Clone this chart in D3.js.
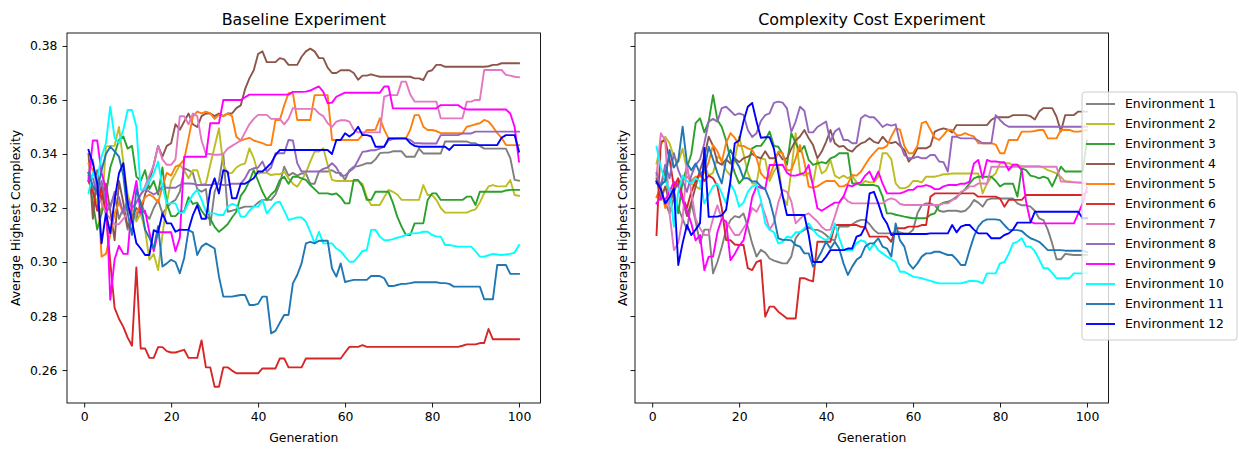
<!DOCTYPE html>
<html>
<head>
<meta charset="utf-8">
<script src="https://cdn.jsdelivr.net/npm/d3@7"></script>
<style>
body { margin: 0; background: #fff; }
text { font-family: "DejaVu Sans", sans-serif; fill: #000; }
</style>
</head>
<body>
<svg id="svg"></svg>
<script>

const width = 1239;
const height = 451;

// x values (generation index) and axis settings
const generations = d3.range(1, 101);
const xTicks = [0, 20, 40, 60, 80, 100];
const yTicks = [0.26, 0.28, 0.30, 0.32, 0.34, 0.36, 0.38];
const xLimits = [-3.95, 104.95];
const yLimits = [0.2478, 0.3848];

const envNames = ["Environment 1", "Environment 2", "Environment 3", "Environment 4",
	"Environment 5", "Environment 6", "Environment 7", "Environment 8",
	"Environment 9", "Environment 10", "Environment 11", "Environment 12"];
const envColors = ["#7f7f7f", "#bcbd22", "#2ca02c", "#8c564b", "#ff7f0e", "#d62728",
	"#e377c2", "#9467bd", "#ff00ff", "#00ffff", "#1f77b4", "#0000ff"];

// ---- Baseline experiment ----
const base1 = [
	0.331, 0.326, 0.330, 0.322, 0.318, 0.321, 0.325, 0.316, 0.320, 0.312,
	0.318, 0.316, 0.322, 0.318, 0.316, 0.320, 0.323, 0.318, 0.320, 0.322,
	0.323, 0.326, 0.3347, 0.334, 0.333, 0.327, 0.326, 0.327, 0.3137, 0.326,
	0.330, 0.340, 0.3186, 0.319, 0.3195, 0.320, 0.3205, 0.3205, 0.3205, 0.322,
	0.323, 0.323, 0.323, 0.325, 0.329, 0.3353, 0.332, 0.333, 0.332, 0.3328,
	0.3328, 0.329, 0.329, 0.3335, 0.3335, 0.3335, 0.334, 0.333, 0.333, 0.3304,
	0.334, 0.3353, 0.3355, 0.336, 0.3366, 0.3366, 0.338, 0.3403, 0.3405, 0.3405,
	0.341, 0.341, 0.341, 0.339, 0.339, 0.339, 0.342, 0.3402, 0.3402, 0.3402,
	0.3402, 0.3402, 0.3446, 0.3446, 0.3446, 0.3446, 0.3446, 0.3446, 0.344, 0.344,
	0.343, 0.342, 0.342, 0.342, 0.342, 0.342, 0.342, 0.3385, 0.3304, 0.3301];
const base2 = [
	0.330, 0.326, 0.322, 0.318, 0.3427, 0.343, 0.343, 0.350, 0.337, 0.325,
	0.320, 0.315, 0.318, 0.312, 0.3008, 0.303, 0.297, 0.310, 0.322, 0.330,
	0.3328, 0.336, 0.334, 0.331, 0.334, 0.334, 0.3286, 0.329, 0.336, 0.3427,
	0.3495, 0.336, 0.3328, 0.333, 0.335, 0.336, 0.3365, 0.3421, 0.3385, 0.3328,
	0.333, 0.333, 0.3322, 0.3325, 0.3325, 0.3335, 0.331, 0.329, 0.3279, 0.3304,
	0.333, 0.3372, 0.3409, 0.3409, 0.3421, 0.336, 0.3304, 0.330, 0.330, 0.330,
	0.330, 0.330, 0.330, 0.329, 0.324, 0.3211, 0.3211, 0.3211, 0.324, 0.3267,
	0.326, 0.325, 0.323, 0.323, 0.323, 0.323, 0.323, 0.3285, 0.3248, 0.3248,
	0.323, 0.320, 0.3183, 0.3183, 0.3183, 0.3183, 0.3183, 0.3183, 0.319, 0.3195,
	0.322, 0.3255, 0.328, 0.3285, 0.328, 0.328, 0.328, 0.3304, 0.3248, 0.3245];
const base3 = [
	0.332, 0.322, 0.312, 0.318, 0.325, 0.335, 0.340, 0.3452, 0.3465, 0.342,
	0.343, 0.3316, 0.330, 0.334, 0.327, 0.330, 0.325, 0.335, 0.3217, 0.317,
	0.317, 0.3187, 0.3187, 0.324, 0.3215, 0.322, 0.319, 0.3168, 0.316, 0.313,
	0.3112, 0.3125, 0.314, 0.3165, 0.3186, 0.3245, 0.3267, 0.330, 0.334, 0.330,
	0.326, 0.323, 0.325, 0.3265, 0.3304, 0.3316, 0.329, 0.3316, 0.3316, 0.331,
	0.3304, 0.3285, 0.327, 0.3254, 0.3254, 0.3254, 0.325, 0.3254, 0.324, 0.3217,
	0.3217, 0.3304, 0.3304, 0.328, 0.323, 0.323, 0.326, 0.326, 0.326, 0.326,
	0.322, 0.3168, 0.3131, 0.310, 0.310, 0.3143, 0.3143, 0.3143, 0.323, 0.3254,
	0.3254, 0.323, 0.323, 0.323, 0.323, 0.323, 0.323, 0.3242, 0.3242, 0.3211,
	0.326, 0.326, 0.326, 0.326, 0.326, 0.326, 0.3265, 0.3267, 0.3267, 0.3267];
const base4 = [
	0.340, 0.316, 0.334, 0.323, 0.329, 0.319, 0.308, 0.330, 0.322, 0.313,
	0.316, 0.320, 0.318, 0.325, 0.330, 0.336, 0.343, 0.339, 0.343, 0.344,
	0.351, 0.349, 0.352, 0.355, 0.351, 0.350, 0.354, 0.355, 0.355, 0.354,
	0.355, 0.354, 0.355, 0.355, 0.357, 0.358, 0.364, 0.368, 0.371, 0.377,
	0.378, 0.374, 0.374, 0.374, 0.3755, 0.375, 0.373, 0.373, 0.373, 0.376,
	0.378, 0.379, 0.378, 0.3755, 0.3755, 0.372, 0.370, 0.370, 0.371, 0.371,
	0.371, 0.370, 0.3675, 0.369, 0.369, 0.3695, 0.369, 0.3686, 0.3686, 0.3686,
	0.3686, 0.3686, 0.3686, 0.3686, 0.3686, 0.368, 0.368, 0.3674, 0.3705, 0.371,
	0.373, 0.373, 0.3723, 0.3723, 0.3723, 0.3723, 0.3723, 0.3723, 0.3723, 0.3723,
	0.3723, 0.3723, 0.3725, 0.373, 0.373, 0.3736, 0.3736, 0.3736, 0.3736, 0.3736];
const base5 = [
	0.3365, 0.334, 0.330, 0.302, 0.303, 0.310, 0.318, 0.322, 0.318, 0.320,
	0.316, 0.318, 0.321, 0.324, 0.325, 0.324, 0.322, 0.328, 0.333, 0.332,
	0.3353, 0.336, 0.338, 0.3458, 0.3538, 0.3557, 0.355, 0.3557, 0.355, 0.353,
	0.3545, 0.354, 0.355, 0.354, 0.3464, 0.345, 0.3455, 0.346, 0.345, 0.3445,
	0.344, 0.3433, 0.3433, 0.3526, 0.3526, 0.358, 0.3625, 0.3625, 0.3526, 0.3526,
	0.3526, 0.3526, 0.3618, 0.3618, 0.3618, 0.3618, 0.3452, 0.3452, 0.3452, 0.3452,
	0.3452, 0.3452, 0.3452, 0.347, 0.3489, 0.3489, 0.349, 0.3532, 0.349, 0.3458,
	0.3458, 0.3458, 0.3458, 0.3458, 0.349, 0.3544, 0.3544, 0.3501, 0.3489, 0.3489,
	0.3485, 0.3477, 0.3477, 0.3477, 0.3477, 0.3477, 0.3477, 0.3501, 0.3505, 0.351,
	0.3514, 0.3526, 0.352, 0.3501, 0.3477, 0.346, 0.3433, 0.3433, 0.3433, 0.3433];
const base6 = [
	0.330, 0.326, 0.319, 0.328, 0.318, 0.300, 0.283, 0.279, 0.276, 0.272,
	0.269, 0.298, 0.268, 0.268, 0.2645, 0.2645, 0.2685, 0.2685, 0.267, 0.2665,
	0.2665, 0.267, 0.2675, 0.2645, 0.2645, 0.2645, 0.271, 0.261, 0.261, 0.2538,
	0.2538, 0.261, 0.261, 0.2598, 0.2588, 0.2588, 0.2588, 0.2588, 0.2588, 0.2588,
	0.2606, 0.2606, 0.2606, 0.2606, 0.2643, 0.2643, 0.261, 0.261, 0.261, 0.261,
	0.2643, 0.2643, 0.2643, 0.2643, 0.2643, 0.2643, 0.2643, 0.2643, 0.2643, 0.2665,
	0.2686, 0.2686, 0.2686, 0.2692, 0.2686, 0.2686, 0.2686, 0.2686, 0.2686, 0.2686,
	0.2686, 0.2686, 0.2686, 0.2686, 0.2686, 0.2686, 0.2686, 0.2686, 0.2686, 0.2686,
	0.2686, 0.2686, 0.2686, 0.2686, 0.2686, 0.2686, 0.269, 0.2695, 0.2695, 0.2695,
	0.270, 0.270, 0.2752, 0.2714, 0.2714, 0.2714, 0.2714, 0.2714, 0.2714, 0.2714];
const base7 = [
	0.333, 0.338, 0.325, 0.322, 0.318, 0.316, 0.314, 0.314, 0.316, 0.318,
	0.320, 0.322, 0.325, 0.328, 0.332, 0.336, 0.343, 0.338, 0.336, 0.336,
	0.338, 0.354, 0.354, 0.351, 0.355, 0.354, 0.345, 0.340, 0.340, 0.3397,
	0.3397, 0.340, 0.342, 0.343, 0.344, 0.345, 0.348, 0.351, 0.353, 0.3545,
	0.3545, 0.3545, 0.353, 0.353, 0.353, 0.351, 0.353, 0.357, 0.3567, 0.3567,
	0.3567, 0.3567, 0.3567, 0.355, 0.354, 0.3514, 0.350, 0.352, 0.3525, 0.3525,
	0.352, 0.349, 0.348, 0.348, 0.348, 0.348, 0.348, 0.348, 0.3612, 0.3618,
	0.3618, 0.3618, 0.3668, 0.3668, 0.362, 0.3594, 0.3594, 0.3594, 0.3594, 0.3594,
	0.3594, 0.3532, 0.3532, 0.3532, 0.3532, 0.3532, 0.3532, 0.3594, 0.3594, 0.360,
	0.360, 0.3711, 0.3711, 0.3711, 0.3711, 0.3711, 0.3693, 0.369, 0.3686, 0.3684];
const base8 = [
	0.333, 0.331, 0.325, 0.330, 0.322, 0.320, 0.326, 0.324, 0.318, 0.323,
	0.320, 0.322, 0.325, 0.327, 0.326, 0.325, 0.326, 0.328, 0.3275, 0.3275,
	0.3275, 0.3285, 0.3291, 0.3291, 0.329, 0.3285, 0.3285, 0.3285, 0.3285, 0.329,
	0.329, 0.3285, 0.3285, 0.329, 0.329, 0.329, 0.331, 0.334, 0.3347, 0.335,
	0.3372, 0.3335, 0.335, 0.3403, 0.3403, 0.3403, 0.3452, 0.345, 0.3366, 0.3335,
	0.3335, 0.3335, 0.3335, 0.3335, 0.3345, 0.335, 0.3366, 0.335, 0.332, 0.332,
	0.3335, 0.3347, 0.3377, 0.3408, 0.341, 0.3414, 0.3414, 0.342, 0.3427, 0.3451,
	0.3455, 0.3457, 0.3457, 0.3457, 0.3452, 0.344, 0.344, 0.3439, 0.3439, 0.3439,
	0.3439, 0.347, 0.347, 0.347, 0.347, 0.347, 0.3476, 0.3476, 0.3476, 0.3483,
	0.3483, 0.3483, 0.3483, 0.3483, 0.3483, 0.3483, 0.3483, 0.3483, 0.3483, 0.3483];
const base9 = [
	0.330, 0.345, 0.345, 0.333, 0.327, 0.286, 0.301, 0.306, 0.303, 0.303,
	0.322, 0.330, 0.318, 0.319, 0.311, 0.304, 0.311, 0.311, 0.311, 0.311,
	0.304, 0.309, 0.339, 0.339, 0.339, 0.339, 0.339, 0.339, 0.3514, 0.3514,
	0.3514, 0.360, 0.360, 0.360, 0.360, 0.360, 0.361, 0.362, 0.362, 0.362,
	0.362, 0.362, 0.362, 0.362, 0.362, 0.362, 0.362, 0.363, 0.363, 0.363,
	0.3631, 0.3635, 0.3643, 0.365, 0.363, 0.3588, 0.359, 0.3612, 0.362, 0.3627,
	0.3627, 0.3627, 0.3627, 0.3627, 0.3627, 0.3627, 0.3627, 0.3627, 0.365, 0.365,
	0.3569, 0.3569, 0.3569, 0.3569, 0.3569, 0.3569, 0.3569, 0.3569, 0.3569, 0.3569,
	0.3569, 0.3581, 0.3581, 0.3581, 0.3581, 0.3581, 0.357, 0.3565, 0.3565, 0.3565,
	0.3565, 0.3565, 0.3565, 0.3565, 0.3565, 0.3565, 0.3565, 0.355, 0.350, 0.3372];
const base10 = [
	0.3255, 0.333, 0.331, 0.339, 0.344, 0.3575, 0.346, 0.344, 0.349, 0.3563,
	0.3563, 0.3501, 0.3267, 0.327, 0.330, 0.3328, 0.3372, 0.328, 0.3217, 0.3217,
	0.3217, 0.318, 0.3186, 0.322, 0.325, 0.3267, 0.323, 0.3186, 0.318, 0.318,
	0.3174, 0.3174, 0.3205, 0.3215, 0.321, 0.3168, 0.3168, 0.319, 0.3205, 0.3205,
	0.323, 0.318, 0.320, 0.322, 0.3223, 0.319, 0.3156, 0.316, 0.3165, 0.3165,
	0.315, 0.3112, 0.3069, 0.3112, 0.3069, 0.3069, 0.3069, 0.305, 0.304, 0.302,
	0.3001, 0.3001, 0.302, 0.304, 0.3045, 0.3119, 0.3119, 0.3094, 0.3081, 0.3081,
	0.3085, 0.309, 0.3094, 0.310, 0.3106, 0.3106, 0.3108, 0.3112, 0.3112, 0.310,
	0.3095, 0.3094, 0.3063, 0.3063, 0.306, 0.3057, 0.3057, 0.3057, 0.3057, 0.304,
	0.302, 0.302, 0.3025, 0.303, 0.3028, 0.3026, 0.3028, 0.303, 0.3035, 0.3063];
const base11 = [
	0.333, 0.328, 0.326, 0.334, 0.340, 0.3427, 0.341, 0.339, 0.332, 0.318,
	0.310, 0.327, 0.322, 0.312, 0.309, 0.305, 0.3133, 0.2983, 0.2995, 0.3008,
	0.300, 0.2958, 0.3015, 0.3118, 0.311, 0.3026, 0.3057, 0.3069, 0.306, 0.305,
	0.2946, 0.2872, 0.2872, 0.2872, 0.2875, 0.2878, 0.2878, 0.2841, 0.2841, 0.2845,
	0.2872, 0.2872, 0.2736, 0.2745, 0.2775, 0.2804, 0.2804, 0.2921, 0.2952, 0.2995,
	0.3069, 0.3075, 0.3069, 0.3079, 0.3079, 0.3079, 0.2976, 0.2946, 0.2995, 0.2926,
	0.293, 0.2934, 0.2934, 0.2934, 0.2934, 0.2948, 0.2948, 0.2948, 0.294, 0.2911,
	0.2911, 0.2915, 0.2919, 0.2919, 0.2922, 0.2925, 0.2925, 0.2925, 0.2925, 0.2925,
	0.2925, 0.2922, 0.2922, 0.2919, 0.2909, 0.2909, 0.2909, 0.2909, 0.2909, 0.2909,
	0.2909, 0.2862, 0.2862, 0.2862, 0.2989, 0.2989, 0.2989, 0.2956, 0.2956, 0.2956];
const base12 = [
	0.3415, 0.3366, 0.3291, 0.3069, 0.318, 0.3106, 0.323, 0.3328, 0.3366, 0.322,
	0.315, 0.307, 0.305, 0.3026, 0.3026, 0.3118, 0.311, 0.318, 0.3143, 0.3143,
	0.3112, 0.312, 0.3119, 0.3119, 0.3174, 0.3211, 0.316, 0.316, 0.3267, 0.331,
	0.3254, 0.334, 0.3335, 0.3236, 0.3236, 0.329, 0.329, 0.330, 0.331, 0.3335,
	0.3335, 0.335, 0.3366, 0.3396, 0.3415, 0.3415, 0.3415, 0.3415, 0.3415, 0.3415,
	0.3415, 0.3415, 0.3415, 0.3415, 0.3415, 0.3415, 0.340, 0.3452, 0.3452, 0.3477,
	0.3465, 0.3477, 0.3501, 0.347, 0.347, 0.3465, 0.3427, 0.3427, 0.3427, 0.3458,
	0.3458, 0.3458, 0.3458, 0.3458, 0.344, 0.343, 0.3427, 0.3427, 0.3427, 0.3427,
	0.3427, 0.3427, 0.3427, 0.3415, 0.3433, 0.3433, 0.3433, 0.3433, 0.3433, 0.3433,
	0.3433, 0.3433, 0.3433, 0.3433, 0.3433, 0.346, 0.347, 0.347, 0.347, 0.3409];

// ---- Complexity cost experiment ----
const cost1 = [
	0.330, 0.326, 0.322, 0.318, 0.324, 0.320, 0.316, 0.312, 0.322, 0.315,
	0.307, 0.312, 0.312, 0.2958, 0.300, 0.3055, 0.312, 0.3155, 0.317, 0.3165,
	0.318, 0.313, 0.3069, 0.302, 0.3045, 0.3035, 0.3013, 0.3005, 0.300, 0.2995,
	0.2995, 0.302, 0.3088, 0.311, 0.3119, 0.313, 0.3119, 0.3119, 0.3112, 0.310,
	0.3085, 0.308, 0.3131, 0.3131, 0.3131, 0.314, 0.315, 0.3156, 0.3156, 0.314,
	0.3119, 0.3106, 0.3106, 0.3106, 0.3106, 0.311, 0.311, 0.3106, 0.3106, 0.3119,
	0.318, 0.321, 0.3217, 0.3217, 0.321, 0.319, 0.3186, 0.319, 0.319, 0.319,
	0.3186, 0.319, 0.3205, 0.323, 0.322, 0.3205, 0.323, 0.3235, 0.3235, 0.3235,
	0.3235, 0.3235, 0.3235, 0.3217, 0.321, 0.321, 0.3205, 0.319, 0.3162, 0.3155,
	0.3119, 0.3069, 0.301, 0.301, 0.303, 0.3028, 0.3026, 0.3026, 0.3026, 0.3026];
const cost2 = [
	0.3365, 0.3433, 0.3464, 0.344, 0.339, 0.337, 0.342, 0.334, 0.329, 0.328,
	0.327, 0.336, 0.332, 0.333, 0.339, 0.338, 0.334, 0.332, 0.338, 0.3464,
	0.340, 0.333, 0.3291, 0.329, 0.3384, 0.338, 0.330, 0.3335, 0.336, 0.3242,
	0.3211, 0.334, 0.3477, 0.333, 0.332, 0.333, 0.329, 0.3378, 0.3328, 0.334,
	0.3378, 0.332, 0.331, 0.332, 0.331, 0.332, 0.3295, 0.3285, 0.330, 0.3295,
	0.3295, 0.3316, 0.3403, 0.3403, 0.338, 0.3291, 0.3273, 0.3273, 0.328, 0.330,
	0.330, 0.3295, 0.3316, 0.3316, 0.3316, 0.332, 0.3325, 0.3325, 0.3328, 0.3328,
	0.3328, 0.3328, 0.3328, 0.3328, 0.3328, 0.3254, 0.329, 0.3315, 0.3328, 0.3366,
	0.3366, 0.3366, 0.336, 0.336, 0.3355, 0.3355, 0.3355, 0.3355, 0.3355, 0.335,
	0.334, 0.3335, 0.3328, 0.3315, 0.3298, 0.3298, 0.3296, 0.3295, 0.3294, 0.3294];
const cost3 = [
	0.330, 0.328, 0.334, 0.322, 0.326, 0.318, 0.330, 0.335, 0.340, 0.3514,
	0.3532, 0.348, 0.352, 0.3618, 0.3526, 0.350, 0.345, 0.338, 0.333, 0.3291,
	0.331, 0.336, 0.3421, 0.343, 0.343, 0.3452, 0.3483, 0.343, 0.3427, 0.340,
	0.336, 0.3477, 0.344, 0.3409, 0.343, 0.3378, 0.336, 0.3365, 0.337, 0.3365,
	0.3384, 0.339, 0.3403, 0.3403, 0.3403, 0.3291, 0.3291, 0.3285, 0.3285, 0.3285,
	0.3285, 0.328, 0.3242, 0.318, 0.318, 0.3175, 0.3172, 0.3168, 0.3165, 0.3162,
	0.3162, 0.3162, 0.3162, 0.3175, 0.318, 0.3211, 0.322, 0.3223, 0.323, 0.3242,
	0.3255, 0.327, 0.3291, 0.331, 0.3316, 0.3316, 0.3316, 0.3316, 0.330, 0.328,
	0.329, 0.329, 0.329, 0.3242, 0.3347, 0.334, 0.332, 0.3316, 0.331, 0.3316,
	0.331, 0.328, 0.3316, 0.3353, 0.3335, 0.3335, 0.3335, 0.3335, 0.3335, 0.345];
const cost4 = [
	0.331, 0.323, 0.328, 0.322, 0.326, 0.330, 0.323, 0.317, 0.322, 0.328,
	0.334, 0.339, 0.3464, 0.343, 0.337, 0.336, 0.338, 0.3365, 0.3384, 0.337,
	0.3384, 0.339, 0.340, 0.339, 0.3384, 0.341, 0.3384, 0.3384, 0.3403, 0.338,
	0.3384, 0.342, 0.345, 0.3465, 0.3489, 0.3458, 0.3433, 0.3384, 0.3409, 0.3445,
	0.3489, 0.344, 0.3427, 0.343, 0.3415, 0.3409, 0.3427, 0.3439, 0.3445, 0.3458,
	0.3445, 0.344, 0.3464, 0.3445, 0.344, 0.3445, 0.343, 0.3415, 0.3372, 0.339,
	0.3421, 0.3421, 0.3421, 0.343, 0.3483, 0.349, 0.3495, 0.349, 0.348, 0.3507,
	0.3507, 0.3507, 0.3507, 0.3507, 0.3507, 0.3507, 0.3507, 0.3526, 0.3536, 0.3536,
	0.3536, 0.3536, 0.3544, 0.3544, 0.3544, 0.3544, 0.354, 0.3528, 0.3557, 0.357,
	0.357, 0.357, 0.3538, 0.3483, 0.3544, 0.3544, 0.3544, 0.3557, 0.3557, 0.3557];
const cost5 = [
	0.324, 0.328, 0.320, 0.324, 0.328, 0.330, 0.330, 0.3316, 0.330, 0.3316,
	0.3316, 0.333, 0.337, 0.3433, 0.341, 0.337, 0.344, 0.3477, 0.346, 0.343,
	0.343, 0.3421, 0.3415, 0.3385, 0.3328, 0.331, 0.3316, 0.336, 0.3409, 0.3403,
	0.334, 0.334, 0.3384, 0.3433, 0.337, 0.3279, 0.3275, 0.328, 0.3291, 0.330,
	0.330, 0.330, 0.328, 0.328, 0.329, 0.3322, 0.332, 0.3334, 0.336, 0.3385,
	0.3403, 0.3421, 0.3421, 0.343, 0.3465, 0.3495, 0.349, 0.343, 0.3403, 0.3403,
	0.343, 0.3514, 0.352, 0.349, 0.346, 0.3452, 0.347, 0.349, 0.3489, 0.347,
	0.347, 0.3477, 0.347, 0.3465, 0.344, 0.344, 0.344, 0.344, 0.3435, 0.3403,
	0.3403, 0.3452, 0.3452, 0.3452, 0.3483, 0.3483, 0.3483, 0.3485, 0.3489, 0.3489,
	0.3458, 0.3458, 0.3458, 0.3489, 0.349, 0.3489, 0.3483, 0.3483, 0.3485, 0.3489];
const cost6 = [
	0.310, 0.3446, 0.345, 0.338, 0.3279, 0.331, 0.324, 0.320, 0.326, 0.330,
	0.333, 0.330, 0.332, 0.331, 0.328, 0.320, 0.3081, 0.3081, 0.3065, 0.3063,
	0.3063, 0.2977, 0.297, 0.300, 0.3007, 0.2798, 0.2835, 0.2835, 0.2816, 0.2804,
	0.2791, 0.2791, 0.2791, 0.294, 0.294, 0.2933, 0.2928, 0.3075, 0.3075, 0.3075,
	0.3075, 0.3137, 0.3137, 0.3137, 0.3137, 0.3137, 0.3137, 0.313, 0.313, 0.3094,
	0.3094, 0.3094, 0.3094, 0.3094, 0.3075, 0.3125, 0.3125, 0.3125, 0.3131, 0.3131,
	0.3131, 0.3137, 0.3137, 0.3242, 0.3254, 0.3254, 0.3254, 0.3254, 0.3254, 0.3254,
	0.3254, 0.3254, 0.3254, 0.3254, 0.3242, 0.3242, 0.3242, 0.3242, 0.3242, 0.3235,
	0.3205, 0.323, 0.323, 0.323, 0.323, 0.3248, 0.3248, 0.3248, 0.3248, 0.3248,
	0.3248, 0.3248, 0.3248, 0.3248, 0.3248, 0.3248, 0.3248, 0.3248, 0.3248, 0.326];
const cost7 = [
	0.332, 0.3477, 0.345, 0.318, 0.3044, 0.307, 0.316, 0.3365, 0.326, 0.316,
	0.3125, 0.310, 0.310, 0.316, 0.321, 0.316, 0.315, 0.3125, 0.310, 0.310,
	0.3125, 0.315, 0.320, 0.3186, 0.3217, 0.3175, 0.312, 0.3145, 0.322, 0.3267,
	0.326, 0.3225, 0.3143, 0.316, 0.3174, 0.318, 0.3165, 0.315, 0.313, 0.3118,
	0.312, 0.3168, 0.322, 0.3242, 0.3225, 0.3217, 0.3217, 0.3217, 0.3217, 0.3217,
	0.3217, 0.3217, 0.3217, 0.323, 0.3236, 0.323, 0.3215, 0.3211, 0.3211, 0.3211,
	0.3211, 0.3211, 0.3211, 0.3211, 0.3211, 0.3211, 0.3217, 0.3217, 0.323, 0.3236,
	0.326, 0.3267, 0.328, 0.328, 0.3291, 0.3291, 0.329, 0.3353, 0.3353, 0.3353,
	0.3353, 0.3353, 0.3353, 0.3353, 0.3353, 0.3353, 0.3353, 0.3353, 0.3353, 0.3353,
	0.3353, 0.3353, 0.3353, 0.3298, 0.3298, 0.3296, 0.3295, 0.3294, 0.3293, 0.3293];
const cost8 = [
	0.333, 0.328, 0.336, 0.331, 0.3403, 0.334, 0.330, 0.326, 0.332, 0.336,
	0.338, 0.344, 0.352, 0.353, 0.352, 0.357, 0.3575, 0.356, 0.3544, 0.355,
	0.3545, 0.3489, 0.3463, 0.3477, 0.3522, 0.3544, 0.355, 0.3589, 0.3594, 0.359,
	0.3569, 0.3482, 0.352, 0.3575, 0.356, 0.348, 0.348, 0.350, 0.351, 0.352,
	0.3445, 0.3483, 0.3495, 0.3452, 0.3452, 0.344, 0.344, 0.3532, 0.3544, 0.3536,
	0.3536, 0.352, 0.350, 0.351, 0.3505, 0.351, 0.344, 0.3396, 0.3384, 0.3384,
	0.339, 0.3384, 0.3384, 0.3396, 0.3396, 0.3372, 0.337, 0.3335, 0.3464, 0.3464,
	0.3458, 0.3458, 0.3458, 0.3458, 0.345, 0.344, 0.344, 0.344, 0.3544, 0.3526,
	0.351, 0.3501, 0.3501, 0.3501, 0.3501, 0.3501, 0.3501, 0.3501, 0.3501, 0.3501,
	0.3501, 0.3501, 0.3501, 0.3501, 0.3501, 0.3501, 0.3501, 0.3501, 0.3501, 0.3501];
const cost9 = [
	0.3217, 0.324, 0.323, 0.326, 0.3298, 0.328, 0.323, 0.319, 0.3143, 0.308,
	0.310, 0.297, 0.302, 0.302, 0.311, 0.316, 0.315, 0.3007, 0.303, 0.306,
	0.308, 0.315, 0.324, 0.328, 0.3275, 0.327, 0.3359, 0.3359, 0.3359, 0.336,
	0.333, 0.332, 0.332, 0.3325, 0.333, 0.3359, 0.328, 0.3199, 0.319, 0.320,
	0.321, 0.322, 0.322, 0.3242, 0.3285, 0.328, 0.329, 0.3295, 0.332, 0.3335,
	0.330, 0.3335, 0.329, 0.3254, 0.3254, 0.3254, 0.3254, 0.326, 0.3267, 0.3267,
	0.328, 0.328, 0.3285, 0.328, 0.327, 0.327, 0.328, 0.3285, 0.3285, 0.3285,
	0.329, 0.329, 0.3298, 0.3365, 0.3378, 0.331, 0.3378, 0.3372, 0.3372, 0.337,
	0.337, 0.334, 0.336, 0.336, 0.334, 0.3223, 0.3149, 0.3143, 0.3143, 0.3143,
	0.3143, 0.3143, 0.3143, 0.3143, 0.3143, 0.3143, 0.3143, 0.318, 0.3217, 0.3276];
const cost10 = [
	0.3427, 0.335, 0.330, 0.327, 0.3131, 0.326, 0.332, 0.330, 0.329, 0.331,
	0.330, 0.3217, 0.325, 0.328, 0.329, 0.3255, 0.3217, 0.329, 0.326, 0.3205,
	0.322, 0.326, 0.328, 0.3285, 0.323, 0.3143, 0.312, 0.311, 0.3069, 0.3075,
	0.3094, 0.309, 0.311, 0.311, 0.3125, 0.3143, 0.312, 0.310, 0.309, 0.308,
	0.3094, 0.3143, 0.309, 0.3044, 0.3044, 0.3044, 0.307, 0.308, 0.3075, 0.3044,
	0.3069, 0.3044, 0.3032, 0.302, 0.301, 0.300, 0.2964, 0.2964, 0.2955, 0.2946,
	0.2943, 0.294, 0.2935, 0.293, 0.2925, 0.2921, 0.2921, 0.2921, 0.2921, 0.2921,
	0.2921, 0.2925, 0.293, 0.293, 0.2928, 0.2921, 0.2958, 0.2958, 0.2958, 0.2995,
	0.300, 0.303, 0.3069, 0.3075, 0.3088, 0.3057, 0.3057, 0.304, 0.301, 0.2977,
	0.2977, 0.296, 0.294, 0.294, 0.294, 0.294, 0.2958, 0.2958, 0.2958, 0.296];
const cost11 = [
	0.3291, 0.3285, 0.330, 0.3415, 0.335, 0.3375, 0.3501, 0.3366, 0.334, 0.3365,
	0.3327, 0.334, 0.3427, 0.338, 0.333, 0.3291, 0.3378, 0.3415, 0.338, 0.3353,
	0.331, 0.331, 0.3298, 0.3298, 0.328, 0.327, 0.323, 0.3168, 0.3088, 0.3082,
	0.3082, 0.308, 0.3063, 0.3057, 0.3032, 0.3032, 0.2983, 0.301, 0.304, 0.3075,
	0.305, 0.3075, 0.305, 0.2995, 0.2952, 0.2983, 0.3008, 0.302, 0.3057, 0.3069,
	0.3069, 0.3088, 0.3057, 0.305, 0.302, 0.3143, 0.308, 0.3057, 0.2995, 0.2975,
	0.2995, 0.302, 0.3032, 0.3032, 0.3038, 0.3038, 0.3032, 0.3026, 0.3026, 0.301,
	0.2989, 0.2989, 0.3044, 0.3094, 0.3131, 0.315, 0.3158, 0.3158, 0.3158, 0.3155,
	0.3137, 0.312, 0.3118, 0.3118, 0.3115, 0.310, 0.3088, 0.3082, 0.3075, 0.306,
	0.3044, 0.3044, 0.3044, 0.3044, 0.3042, 0.3042, 0.3042, 0.3042, 0.3042, 0.3037];
const cost12 = [
	0.3297, 0.327, 0.3217, 0.324, 0.3273, 0.2989, 0.307, 0.3137, 0.310, 0.312,
	0.3144, 0.3422, 0.3167, 0.3168, 0.3168, 0.3173, 0.3193, 0.330, 0.344, 0.345,
	0.352, 0.3575, 0.3589, 0.352, 0.346, 0.3462, 0.3462, 0.342, 0.333, 0.3245,
	0.3174, 0.3174, 0.3174, 0.3174, 0.3174, 0.310, 0.300, 0.300, 0.300, 0.302,
	0.3044, 0.3044, 0.3044, 0.3044, 0.305, 0.305, 0.3094, 0.310, 0.3131, 0.3254,
	0.326, 0.3217, 0.3168, 0.3143, 0.310, 0.3104, 0.3104, 0.3104, 0.3104, 0.3104,
	0.3104, 0.3104, 0.3104, 0.3106, 0.3106, 0.3106, 0.3106, 0.3106, 0.3137, 0.311,
	0.3131, 0.3137, 0.3137, 0.312, 0.3106, 0.3106, 0.3106, 0.3088, 0.3088, 0.3088,
	0.310, 0.3106, 0.312, 0.3146, 0.3146, 0.3146, 0.3146, 0.3186, 0.3186, 0.3186,
	0.3186, 0.3186, 0.3186, 0.3186, 0.3186, 0.3186, 0.3186, 0.3186, 0.3162, 0.3162];

const baselineSeries = [base1, base2, base3, base4, base5, base6, base7, base8, base9, base10, base11, base12];
const costSeries = [cost1, cost2, cost3, cost4, cost5, cost6, cost7, cost8, cost9, cost10, cost11, cost12];


const svg = d3.select("#svg")
			.attr("width", width)
			.attr("height", height)
			.attr("viewBox", `0 0 ${width} ${height}`);

svg.append("rect")
	.attr("width", width)
	.attr("height", height)
	.attr("fill", "#fff");

const plotTop = 33;
const plotBottom = 403;
const plotWidth = 473.5;

const panels = [
	{ title: "Baseline Experiment", left: 67, series: baselineSeries, yLabels: true, yLabelX: 15 },
	{ title: "Complexity Cost Experiment", left: 635, series: costSeries, yLabels: false, yLabelX: 622 }
];

const y = d3.scaleLinear().domain(yLimits).range([plotBottom, plotTop]);

panels.forEach(function(p, pi) {
	const x = d3.scaleLinear().domain(xLimits).range([p.left, p.left + plotWidth]);
	const g = svg.append("g");

	const clipId = "clip" + pi;
	svg.append("clipPath").attr("id", clipId)
		.append("rect")
		.attr("x", p.left).attr("y", plotTop)
		.attr("width", plotWidth).attr("height", plotBottom - plotTop);

	const line = d3.line()
		.x(function(d, i) { return x(generations[i]); })
		.y(function(d) { return y(d); });

	g.append("g")
		.attr("clip-path", `url(#${clipId})`)
		.selectAll("path")
		.data(p.series)
		.enter().append("path")
		.attr("d", line)
		.attr("fill", "none")
		.attr("stroke", function(d, i) { return envColors[i]; })
		.attr("stroke-width", 1.9)
		.attr("stroke-linejoin", "round")
		.attr("stroke-linecap", "square");

	// axes
	const xAxis = d3.axisBottom(x).tickValues(xTicks).tickSize(4.5).tickPadding(5)
		.tickFormat(d3.format("d"));
	const yAxis = d3.axisLeft(y).tickValues(yTicks).tickSize(4.5).tickPadding(5)
		.tickFormat(p.yLabels ? d3.format(".2f") : "");

	const gx = g.append("g").attr("transform", `translate(0,${plotBottom})`).call(xAxis);
	const gy = g.append("g").attr("transform", `translate(${p.left},0)`).call(yAxis);
	[gx, gy].forEach(function(a) {
		a.select(".domain").remove();
		a.selectAll("line").attr("stroke", "#000").attr("stroke-width", 0.9);
		a.selectAll("text").attr("font-size", "12.4px").attr("font-family", "DejaVu Sans").attr("fill", "#000");
	});

	g.append("rect")
		.attr("x", p.left).attr("y", plotTop)
		.attr("width", plotWidth).attr("height", plotBottom - plotTop)
		.attr("fill", "none")
		.attr("stroke", "#000")
		.attr("stroke-width", 0.9);

	g.append("text")
		.attr("x", p.left + plotWidth / 2)
		.attr("y", 25)
		.attr("text-anchor", "middle")
		.attr("font-size", "15.9px")
		.text(p.title);

	g.append("text")
		.attr("x", p.left + plotWidth / 2)
		.attr("y", 441.5)
		.attr("text-anchor", "middle")
		.attr("font-size", "12.4px")
		.text("Generation");

	g.append("text")
		.attr("transform", `translate(${p.yLabelX},${(plotTop + plotBottom) / 2}) rotate(-90)`)
		.attr("text-anchor", "middle")
		.attr("dominant-baseline", "central")
		.attr("font-size", "12.4px")
		.text("Average Highest Complexity");
});

// legend
const legend = svg.append("g").attr("transform", "translate(1082,92)");
legend.append("rect")
	.attr("width", 155)
	.attr("height", 248)
	.attr("rx", 3)
	.attr("fill", "#fff")
	.attr("fill-opacity", 0.8)
	.attr("stroke", "#cccccc")
	.attr("stroke-width", 1);

const items = legend.selectAll("g.item")
	.data(envNames)
	.enter().append("g")
	.attr("class", "item")
	.attr("transform", function(d, i) { return `translate(0,${12 + i * 20})`; });

items.append("line")
	.attr("x1", 4).attr("x2", 33)
	.attr("stroke", function(d, i) { return envColors[i]; })
	.attr("stroke-width", 1.9);

items.append("text")
	.attr("x", 43)
	.attr("dy", "0.36em")
	.attr("font-size", "12.4px")
	.text(function(d) { return d; });

</script>
</body>
</html>
